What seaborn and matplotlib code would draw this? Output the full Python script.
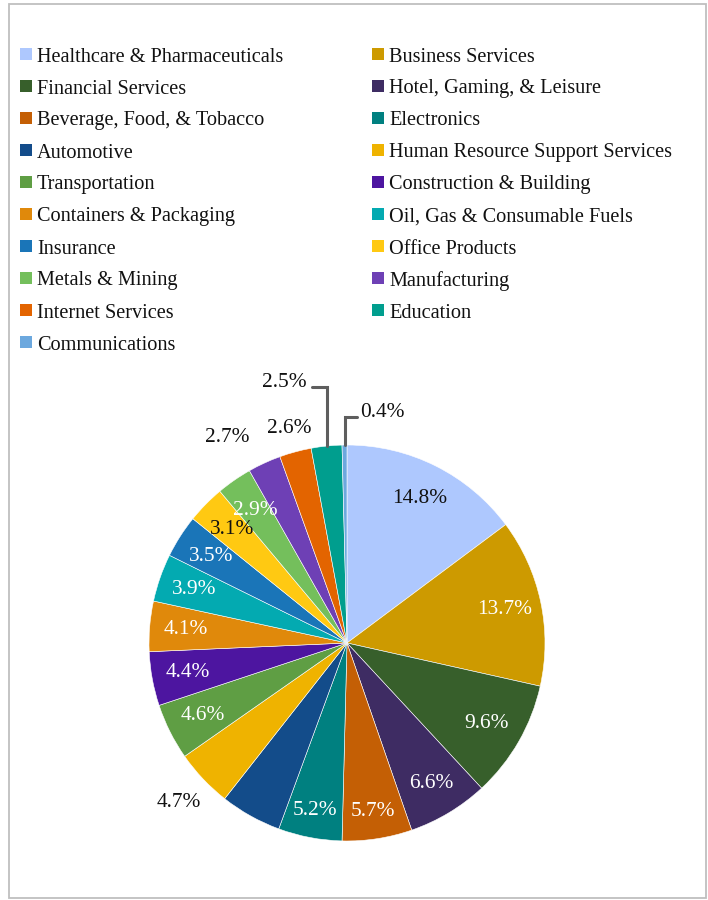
import numpy as np
import matplotlib
matplotlib.use("Agg")
import matplotlib.pyplot as plt
from matplotlib.patches import Rectangle
import seaborn as sns

# Portfolio composition by industry (share of total, %)
industries = [
    "Healthcare & Pharmaceuticals", "Business Services",
    "Financial Services", "Hotel, Gaming, & Leisure",
    "Beverage, Food, & Tobacco", "Electronics",
    "Automotive", "Human Resource Support Services",
    "Transportation", "Construction & Building",
    "Containers & Packaging", "Oil, Gas & Consumable Fuels",
    "Insurance", "Office Products",
    "Metals & Mining", "Manufacturing",
    "Internet Services", "Education",
    "Communications",
]
shares = [14.8, 13.7, 9.6, 6.6, 5.7, 5.2, 5.0, 4.7, 4.6, 4.4,
          4.1, 3.9, 3.5, 3.1, 2.9, 2.7, 2.6, 2.5, 0.4]
colors = [
    "#AEC8FE", "#CD9A00", "#375F2B", "#3E2C63", "#C45F05", "#008080",
    "#134C8A", "#EFB300", "#5F9E44", "#4D15A0", "#E0890B", "#03AAB1",
    "#1A75B8", "#FFC912", "#74BF5C", "#6E40B5", "#E36400", "#009E8E",
    "#6CA8DE",
]

sns.set_theme(style="white")
plt.rcParams["font.family"] = ["Liberation Serif", "DejaVu Serif"]

W, H = 708, 900
fig = plt.figure(figsize=(W / 100, H / 100), dpi=100)
fig.patch.set_facecolor("white")

# outer frame
fig.add_artist(Rectangle((9 / W, 2 / H), 697 / W, 894 / H, transform=fig.transFigure,
                         facecolor="none", edgecolor="#BFBFBF", linewidth=1.3))

# legend: two columns, row-major order
for i, (name, col) in enumerate(zip(industries, colors)):
    row, c = divmod(i, 2)
    x0 = 20 if c == 0 else 372
    yc = 54 + 32 * row
    fig.add_artist(Rectangle((x0 / W, 1 - (yc + 6) / H), 12 / W, 12 / H,
                             transform=fig.transFigure, facecolor=col,
                             edgecolor="none"))
    fig.text((x0 + 17) / W, 1 - (yc + 0.5) / H, name, fontsize=14.6,
             color="#111111", ha="left", va="center_baseline")

# pie
R = 198
cx, cy = 347, 643
ax = fig.add_axes([(cx - R) / W, (H - cy - R) / H, 2 * R / W, 2 * R / H])
wedges, _ = ax.pie(shares, colors=colors, startangle=90, counterclock=False,
                   radius=1, wedgeprops=dict(edgecolor="white", linewidth=0.4))
ax.set_xlim(-1, 1)
ax.set_ylim(-1, 1)
ax.set_aspect("equal")
ax.axis("off")

dark_text = {"Healthcare & Pharmaceuticals", "Office Products"}
# radial position of each value label (fraction of the radius)
label_r = {"Beverage, Food, & Tobacco": 0.86, "Electronics": 0.86,
           "Hotel, Gaming, & Leisure": 0.83,
           "Human Resource Support Services": 1.17,
           "Manufacturing": 1.2, "Internet Services": 1.12}
angle_nudge = {"Manufacturing": 5.5}
outside = {"Human Resource Support Services", "Manufacturing", "Internet Services"}
unlabelled = {"Automotive"}
leader = {"Education", "Communications"}

lead_col = "#5E5E5E"
lab_fs = 15.4
for w, name, v in zip(wedges, industries, shares):
    txt = f"{v:.1f}%"
    mid = np.deg2rad((w.theta1 + w.theta2) / 2 + angle_nudge.get(name, 0))
    if name in unlabelled:
        continue
    if name in leader:
        x0, y0 = np.cos(mid), np.sin(mid)
        if name == "Education":
            ye, xe = 1.293, x0 - 0.072
            ax.plot([x0, x0, xe], [y0, ye, ye], color=lead_col, lw=2.2,
                    solid_joinstyle="miter", clip_on=False)
            ax.text(xe - 0.03, ye + 0.025, txt, fontsize=lab_fs, color="#111111",
                    ha="right", va="center")
        else:
            ye, xe = 1.141, x0 + 0.065
            ax.plot([x0, x0, xe], [y0, ye, ye], color=lead_col, lw=2.2,
                    solid_joinstyle="miter", clip_on=False)
            ax.text(xe + 0.015, ye + 0.025, txt, fontsize=lab_fs, color="#111111",
                    ha="left", va="center")
        continue
    r = label_r.get(name, 0.815)
    col = "#111111" if (name in dark_text or name in outside) else "white"
    ax.text(r * np.cos(mid), r * np.sin(mid), txt, fontsize=lab_fs, color=col,
            ha="center", va="center")

fig.savefig("out.png", dpi=100, facecolor="white")
